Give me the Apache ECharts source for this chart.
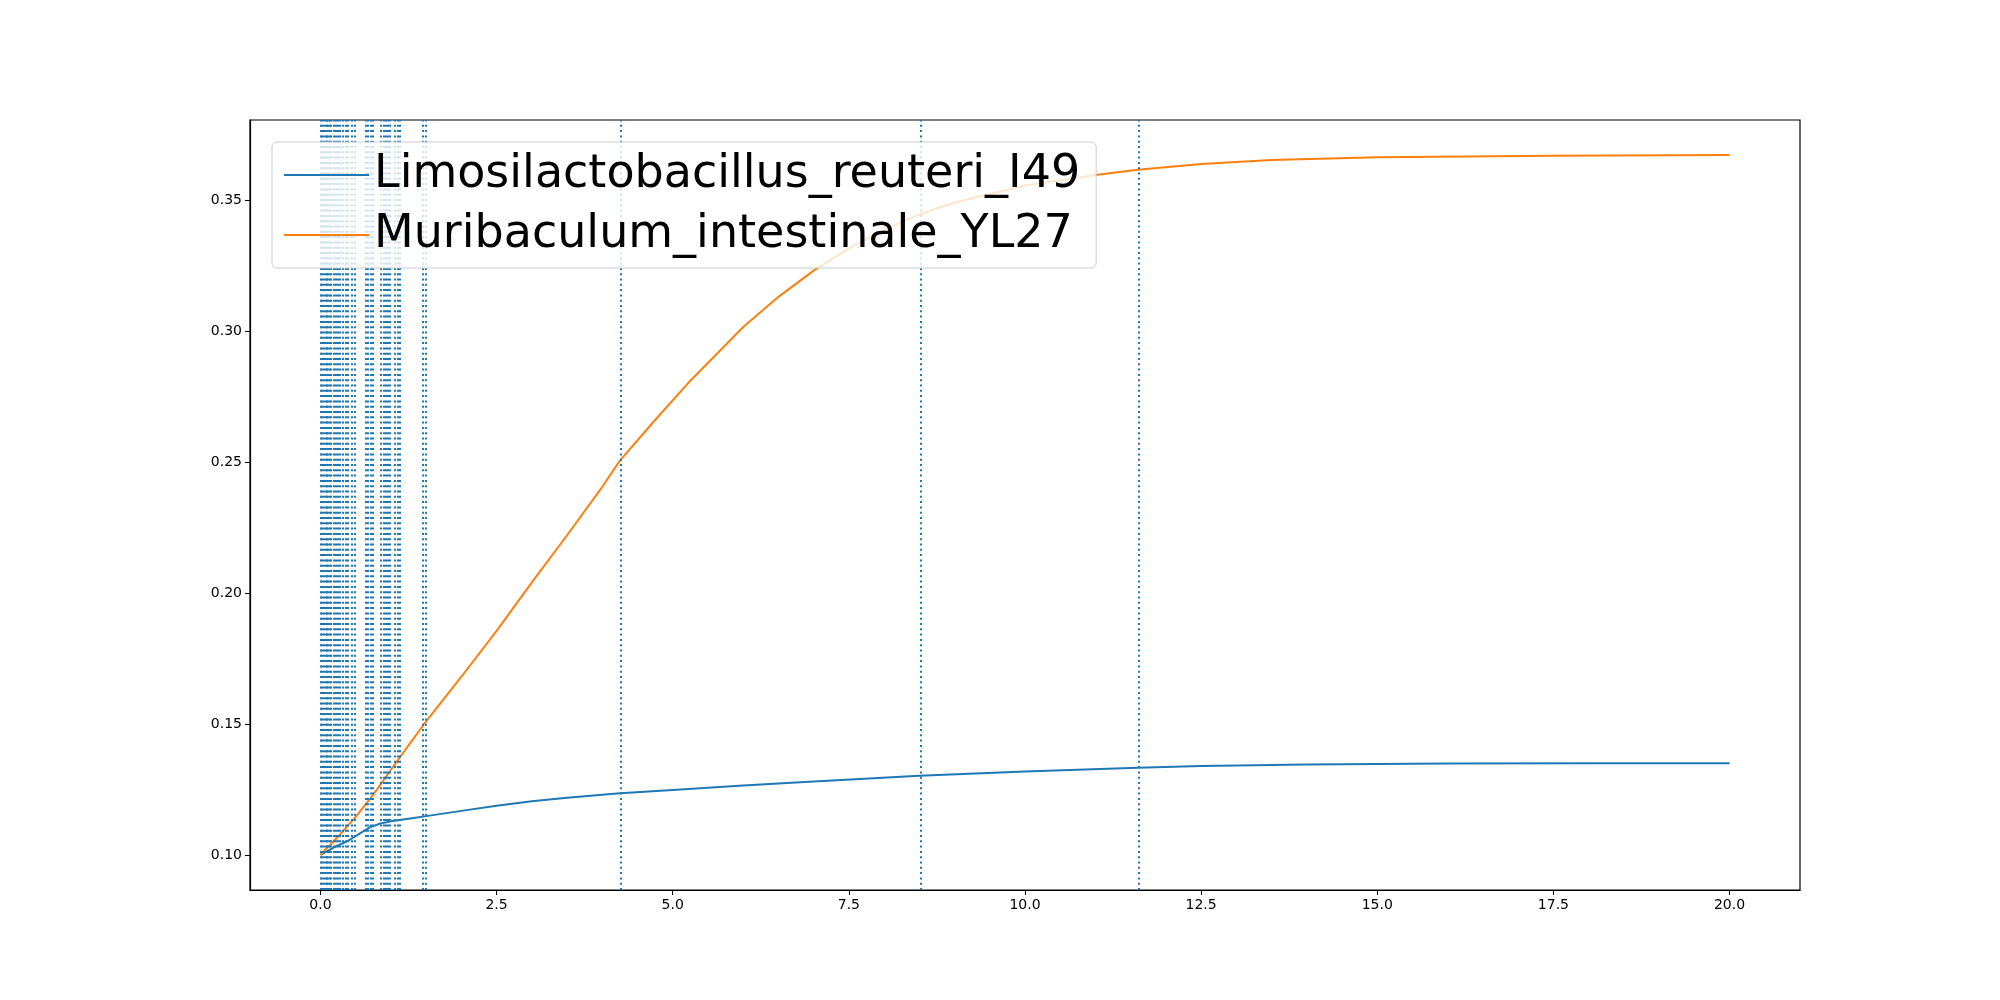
<!DOCTYPE html>
<html lang="en">
<head>
    <meta charset="UTF-8">
    <title>chart</title>
    <script src="https://cdn.jsdelivr.net/npm/echarts@6/dist/echarts.min.js"></script>
    <style>body{margin:0;background:#fff}</style>
</head>
<body>
<div id="main" style="width:2000px;height:1000px;"></div>
<script>
    // 数据
    var blueName = 'Limosilactobacillus_reuteri_I49';
    var orangeName = 'Muribaculum_intestinale_YL27';
    var blueData = [[0,0.100],[0.2,0.103],[0.4,0.1055],[0.55,0.108],[0.7,0.1105],[0.85,0.112],[1.0,0.1128],[1.25,0.1138],[1.5,0.1148],[2.0,0.1168],[2.5,0.1188],[3.0,0.1205],[3.5,0.1218],[4.25,0.1235],[5.0,0.1248],[6.0,0.1265],[7.0,0.128],[8.5,0.1302],[10.0,0.1318],[11.6,0.1333],[12.5,0.1339],[14.0,0.1345],[16.0,0.1349],[18.0,0.135],[20.0,0.135]];
    var orangeData = [[0,0.100],[0.25,0.107],[0.5,0.1145],[0.75,0.123],[1.0,0.1325],[1.25,0.1418],[1.5,0.151],[2.0,0.168],[2.5,0.1855],[3.0,0.204],[3.5,0.222],[4.0,0.2405],[4.25,0.2505],[4.75,0.266],[5.25,0.281],[6.0,0.3015],[6.5,0.313],[7.0,0.323],[7.5,0.3315],[8.0,0.3385],[8.5,0.3445],[9.0,0.349],[10.0,0.3555],[11.0,0.3595],[11.6,0.3615],[12.5,0.3637],[13.5,0.3652],[15.0,0.3663],[17.5,0.3669],[20.0,0.3671]];
    var eventTimes = [0,0.02,0.04,0.07,0.09,0.11,0.13,0.15,0.19,0.22,0.25,0.28,0.31,0.36,0.39,0.45,0.48,0.64,0.67,0.71,0.74,0.85,0.9,0.93,0.96,0.99,1.05,1.09,1.13,1.45,1.5,4.26,8.52,11.62];
    var xTicks = [0,2.5,5,7.5,10,12.5,15,17.5,20];
    var yTicks = [0.10,0.15,0.20,0.25,0.30,0.35];

    var axisStyle = {
        axisLine: {onZero: false, lineStyle: {color: '#000', width: 1.2}},
        axisTick: {show: true, inside: false, length: 5, lineStyle: {color: '#000'}},
        splitLine: {show: false},
        axisLabel: {color: '#000', fontSize: 14, fontFamily: 'DejaVu Sans', margin: 8}
    };

    var option = {
        animation: false,
        grid: {left: 250, right: 200, top: 120, bottom: 110, show: true, borderColor: '#000', borderWidth: 1.2, backgroundColor: 'transparent'},
        legend: {
            left: 272, top: 142, orient: 'vertical', itemWidth: 85, itemHeight: 10, itemGap: 14,
            padding: [10, 16, 10, 12],
            backgroundColor: 'rgba(255,255,255,0.8)', borderColor: '#ccc', borderWidth: 1, borderRadius: 5,
            textStyle: {fontSize: 46, fontFamily: 'DejaVu Sans', color: '#000'},
            icon: 'path://M0,4 L85,4 L85,6 L0,6 Z',
            data: [blueName, orangeName], z: 10
        },
        xAxis: Object.assign({type: 'value', min: -1, max: 21}, axisStyle, {
            axisLabel: Object.assign({}, axisStyle.axisLabel, {customValues: xTicks, formatter: function (v) { return v.toFixed(1); }}),
            axisTick: Object.assign({}, axisStyle.axisTick, {customValues: xTicks})
        }),
        yAxis: Object.assign({type: 'value', min: 0.0866, max: 0.3805}, axisStyle, {
            axisLabel: Object.assign({}, axisStyle.axisLabel, {customValues: yTicks, formatter: function (v) { return v.toFixed(2); }}),
            axisTick: Object.assign({}, axisStyle.axisTick, {customValues: yTicks})
        }),
        series: [
            {
                name: blueName, type: 'line', data: blueData, showSymbol: false,
                color: '#1f77b4', lineStyle: {width: 2},
                markLine: {
                    silent: true, symbol: 'none', label: {show: false},
                    lineStyle: {color: '#1f77b4', type: [2, 3.3], width: 2},
                    data: eventTimes.map(function (t) { return {xAxis: t}; })
                }
            },
            {
                name: orangeName, type: 'line', data: orangeData, showSymbol: false,
                color: '#ff7f0e', lineStyle: {width: 2}
            }
        ]
    };
    var myChart = echarts.init(document.getElementById('main'));
    myChart.setOption(option);
</script>
</body>
</html>
